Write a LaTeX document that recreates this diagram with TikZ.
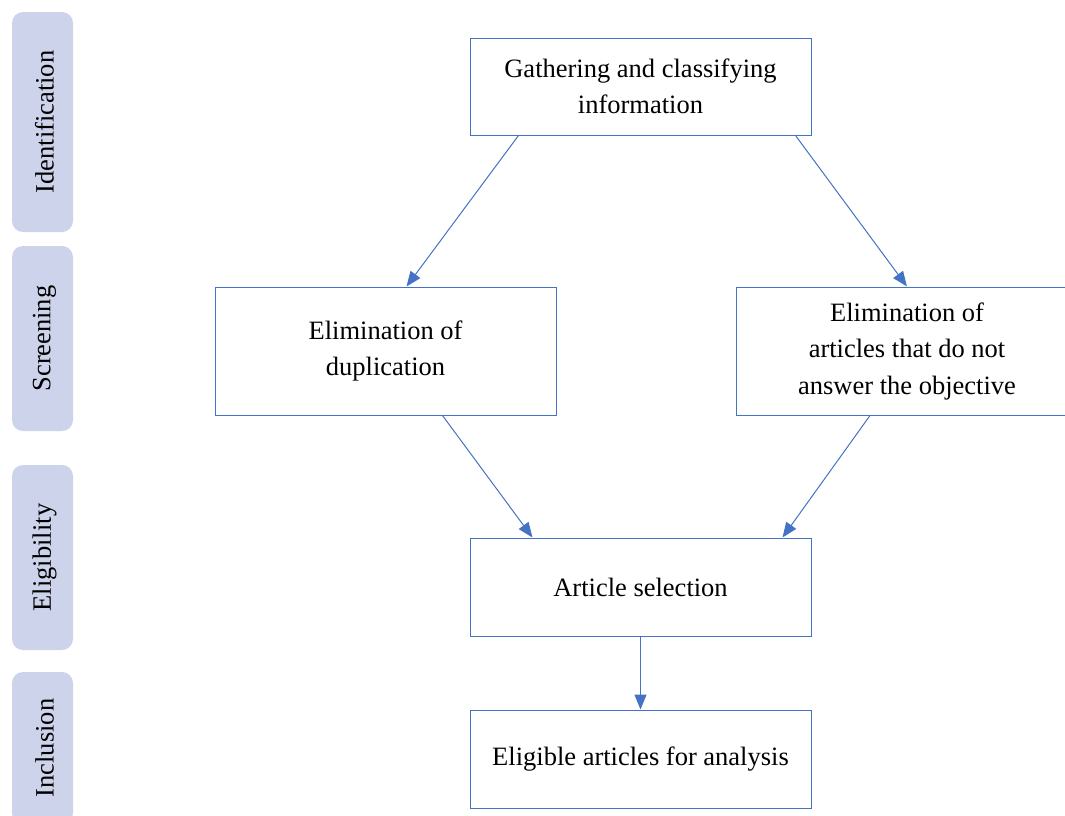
\documentclass[tikz,border=0pt]{standalone}
\usepackage{fontspec}
\setmainfont{Liberation Serif}
\usetikzlibrary{arrows.meta}
\definecolor{boxblue}{HTML}{4472C4}
\definecolor{tabfill}{HTML}{CDD3EA}
\tikzset{
  stage/.style={draw=boxblue, line width=1pt, fill=white, minimum width=341pt, align=center, inner sep=0pt, font=\fontsize{26.5}{36.5}\selectfont},
  tab/.style={fill=tabfill, rounded corners=11pt, minimum width=61pt, inner sep=0pt},
  tablabel/.style={rotate=90, inner sep=0pt, font=\fontsize{26.5}{30}\selectfont},
  flow/.style={draw=boxblue, line width=1pt, -{Triangle[length=15pt,width=12pt]}}
}
\begin{document}
\begin{tikzpicture}[x=1pt,y=-1pt]
\useasboundingbox (0,0) rectangle (1065,815);
\clip (0,0) rectangle (1065,815);
% side tabs
\node[tab, minimum height=220pt] (t1) at (42.5,122) {};
\node[tab, minimum height=185pt] (t2) at (42.5,338.5) {};
\node[tab, minimum height=185pt] (t3) at (42.5,557.5) {};
\node[tab, minimum height=152pt] (t4) at (42.5,748) {};
\node[tablabel] (l1) at ([xshift=2pt]t1.center) {Identification};
\node[tablabel] (l2) at ([xshift=2pt]t2.center) {Screening};
\node[tablabel] (l3) at ([xshift=2pt]t3.center) {Eligibility};
\node[tablabel] (l4) at ([xshift=2pt]t4.center) {Inclusion};
% boxes
\node[stage, minimum height=97pt] (g) at (640.5,86.5) {Gathering and classifying\\information};
\node[stage, minimum height=128pt] (d) at (385.5,351) {Elimination of\\duplication};
\node[stage, minimum height=128pt] (o) at (907,351) {Elimination of\\articles that do not\\answer the objective};
\node[stage, minimum height=98pt] (s) at (640.5,587) {Article selection};
\node[stage, minimum height=98pt] (e) at (640.5,759) {Eligible articles for analysis};
% connectors
\draw[flow] ([xshift=49pt]g.south west) -- ([xshift=192pt]d.north west);
\draw[flow] ([xshift=-16pt]g.south east) -- (o.north);
\draw[flow] ([xshift=228pt]d.south west) -- ([xshift=63pt]s.north west);
\draw[flow] ([xshift=134pt]o.south west) -- ([xshift=-29pt]s.north east);
\draw[flow] (s.south) -- (e.north);
\end{tikzpicture}
\end{document}
